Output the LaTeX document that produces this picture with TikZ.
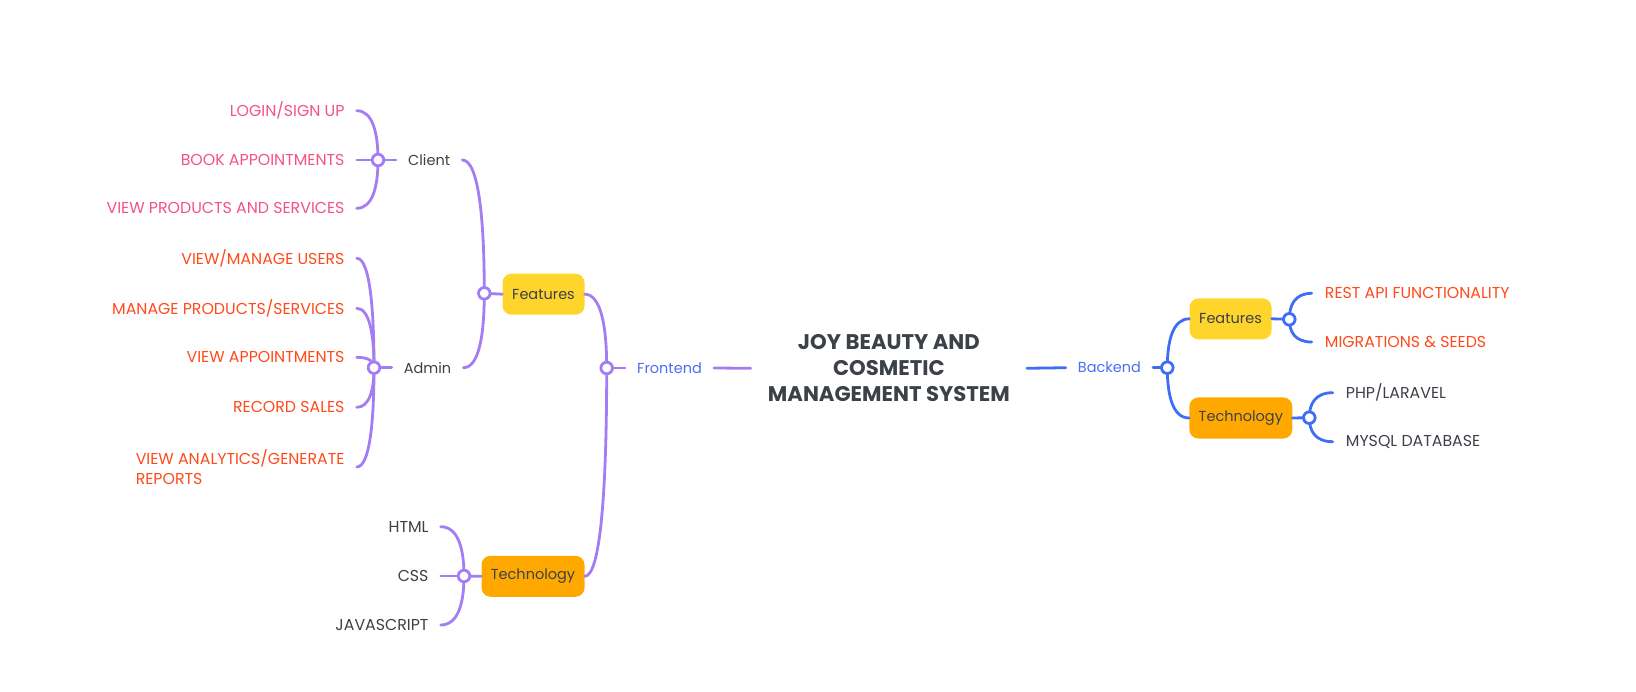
\documentclass[tikz,border=0pt]{standalone}
\usepackage{fontspec}
\setmainfont{Poppins}
\usetikzlibrary{calc}
\definecolor{purp}{HTML}{A47CF3}
\definecolor{blu}{HTML}{3F6DF6}
\definecolor{bluetext}{HTML}{4D6BF5}
\definecolor{pinkt}{HTML}{F2547F}
\definecolor{redt}{HTML}{FF4A1C}
\definecolor{darkt}{HTML}{3C4148}
\definecolor{featfill}{HTML}{FFD42B}
\definecolor{techfill}{HTML}{FFA900}
\newcommand\brc[3]{\draw[#1] (#2) .. controls ($(#2)!0.55!(#2|-#3)$) and ($(#3)!0.75!(#2|-#3)$) .. (#3);}
\tikzset{
  pl/.style={line width=2.8pt, draw=purp, line cap=round},
  bl/.style={line width=2.8pt, draw=blu, line cap=round},
  hubp/.style={line width=2.8pt, draw=purp, fill=white},
  hubb/.style={line width=2.8pt, draw=blu, fill=white},
  lbl/.style={inner xsep=12pt, inner ysep=2pt, font=\fontsize{14.5}{20}\selectfont, text=darkt},
  caps/.style={lbl, font=\fontsize{15.8}{20}\selectfont},
  pinkl/.style={caps, text=pinkt},
  redl/.style={caps, text=redt},
  bluel/.style={lbl, text=bluetext},
  box/.style={rounded corners=9pt, minimum height=41pt, inner xsep=0pt, font=\fontsize{14.5}{17}\selectfont, text=darkt},
  feat/.style={box, fill=featfill, minimum width=82pt},
  tech/.style={box, fill=techfill, minimum width=103pt},
  ttl/.style={align=center, font=\fontsize{21.2}{26}\selectfont\bfseries, text=darkt, inner xsep=17pt}
}
\begin{document}
\begin{tikzpicture}[x=1pt,y=-1pt]
\useasboundingbox (0,0) rectangle (1636,692);
% hubs
\coordinate (hC) at (378,160);
\coordinate (hA) at (374,367.7);
\coordinate (hF) at (484.3,293.3);
\coordinate (hT) at (464,576);
\coordinate (hFE) at (606.7,368);
\coordinate (hBE) at (1167.3,367.7);
\coordinate (hRF) at (1289.3,319.3);
\coordinate (hRT) at (1309.3,417.7);
% title
\node[ttl] (title) at (888.9,368.3) {JOY BEAUTY AND\\COSMETIC\\MANAGEMENT SYSTEM};
% frontend
\node[bluel, anchor=west] (fe) at (625,368) {Frontend};
\node[feat] (featL) at (543.5,294.2) {Features};
\node[tech] (techL) at (533,576.3) {Technology};
\node[lbl, anchor=west] (client) at (396,160) {Client};
\node[lbl, anchor=west] (admin) at (391.7,367.7) {Admin};
\node[pinkl, anchor=east] (c1) at (356.7,110.7) {LOGIN/SIGN UP};
\node[pinkl, anchor=east] (c2) at (356.7,160) {BOOK APPOINTMENTS};
\node[pinkl, anchor=east] (c3) at (356.7,208.3) {VIEW PRODUCTS AND SERVICES};
\node[redl, anchor=east] (a1) at (356.7,258.3) {VIEW/MANAGE USERS};
\node[redl, anchor=east] (a2) at (356.7,308.3) {MANAGE PRODUCTS/SERVICES};
\node[redl, anchor=east] (a3) at (356.7,357.3) {VIEW APPOINTMENTS};
\node[redl, anchor=east] (a4) at (356.7,407.3) {RECORD SALES};
\node[redl, anchor=east, align=left] (a5) at (356.7,467) {VIEW ANALYTICS/GENERATE\\REPORTS};
\node[caps, anchor=east] (t1) at (440.7,526.7) {HTML};
\node[caps, anchor=east] (t2) at (440.7,576) {CSS};
\node[caps, anchor=east] (t3) at (440.7,625) {JAVASCRIPT};
% backend
\node[bluel, anchor=west] (be) at (1065.7,367.7) {Backend};
\node[feat] (featR) at (1230.5,318.8) {Features};
\node[tech] (techR) at (1240.8,418) {Technology};
\node[redl, anchor=west, inner xsep=13pt] (r1) at (1311.7,293.3) {REST API FUNCTIONALITY};
\node[redl, anchor=west, inner xsep=13pt] (r2) at (1311.7,342) {MIGRATIONS \& SEEDS};
\node[caps, anchor=west, inner xsep=13pt] (r3) at (1332.7,392.7) {PHP/LARAVEL};
\node[caps, anchor=west, inner xsep=13pt] (r4) at (1332.7,441.7) {MYSQL DATABASE};
% connectors left
\draw[pl] (fe.east) -- (title.west);
\draw[pl] (hFE) -- (fe.west);
\brc{pl}{hFE}{featL.east}
\brc{pl}{hFE}{techL.east}
\draw[pl] (hF) -- (featL.west);
\brc{pl}{hF}{client.east}
\brc{pl}{hF}{admin.east}
\draw[pl] (hC) -- (client.west);
\brc{pl}{hC}{c1.east}
\brc{pl}{hC}{c2.east}
\brc{pl}{hC}{c3.east}
\draw[pl] (hA) -- (admin.west);
\brc{pl}{hA}{a1.east}
\brc{pl}{hA}{a2.east}
\brc{pl}{hA}{a3.east}
\brc{pl}{hA}{a4.east}
\brc{pl}{hA}{a5.east}
\draw[pl] (hT) -- (techL.west);
\brc{pl}{hT}{t1.east}
\brc{pl}{hT}{t2.east}
\brc{pl}{hT}{t3.east}
% connectors right
\draw[bl] (title.east) -- (be.west);
\draw[bl] (be.east) -- (hBE);
\brc{bl}{hBE}{featR.west}
\brc{bl}{hBE}{techR.west}
\draw[bl] (featR.east) -- (hRF);
\brc{bl}{hRF}{r1.west}
\brc{bl}{hRF}{r2.west}
\draw[bl] (techR.east) -- (hRT);
\brc{bl}{hRT}{r3.west}
\brc{bl}{hRT}{r4.west}
% hub circles
\foreach \h in {hC,hA,hF,hT,hFE} \draw[hubp] (\h) circle (5.8pt);
\foreach \h in {hBE,hRF,hRT} \draw[hubb] (\h) circle (5.8pt);
\end{tikzpicture}
\end{document}
